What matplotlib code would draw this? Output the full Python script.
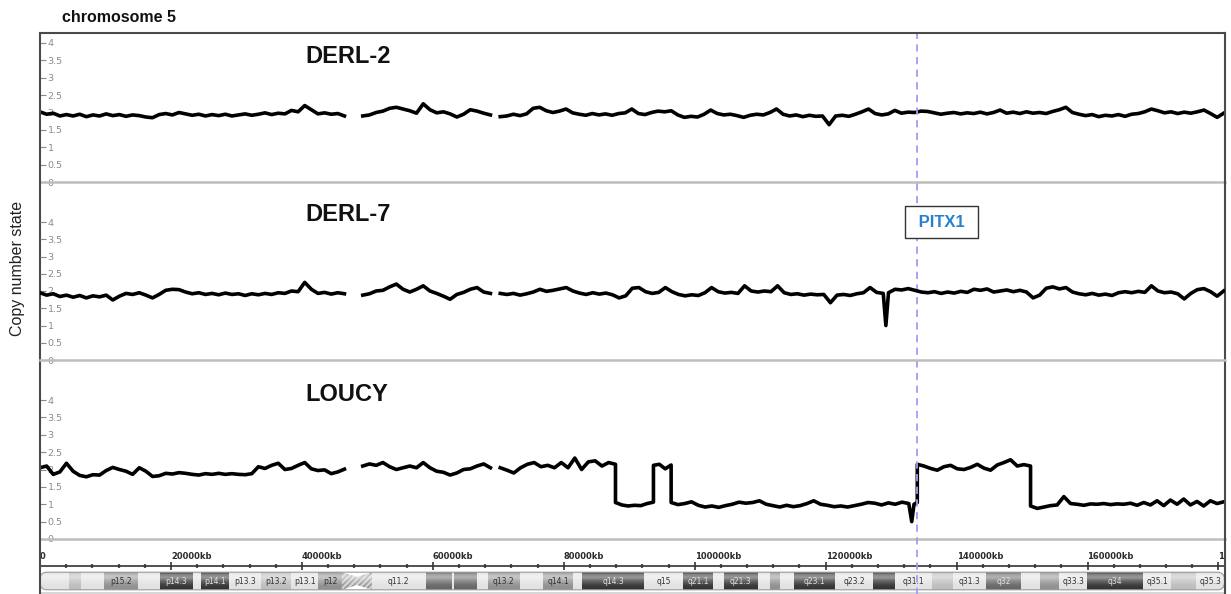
import numpy as np
import matplotlib.pyplot as plt
from matplotlib.patches import FancyBboxPatch, Polygon, Rectangle

W, H = 1231, 594
CHROM_END = 181000
PITX1_POS = 134000

# copy number traces, ~1 Mb bins; pieces are (start_kb, end_kb, values), None = gap
derl2_a = [2.02, 1.95, 1.98, 1.9, 1.94, 1.9, 1.95, 1.88, 1.93, 1.9, 1.96, 1.91, 1.94, 1.89, 1.93, 1.91,
           1.87, 1.85, 1.94, 1.97, 1.93, 2.0, 1.96, 1.92, 1.95, 1.9, 1.94, 1.91, 1.95, 1.9, 1.93, 1.96,
           1.92, 1.95, 1.99, 1.94, 1.98, 1.96, 2.06, 2.02, 2.2, 2.08, 1.96, 1.99, 1.95, 1.97, 1.9]
derl2_b = [1.9, 1.93, 2.0, 2.04, 2.12, 2.15, 2.1, 2.05, 1.98, 2.25, 2.08, 1.99, 2.02, 1.96, 1.87, 1.95,
           2.08, 2.04, 1.98, 1.93]
derl2_c = [1.88, 1.9, 1.95, 1.91, 1.96, 2.12, 2.15, 2.05, 2.0, 2.04, 2.1, 1.99, 1.95, 1.92, 1.97, 1.93,
           1.96, 1.92, 1.97, 1.99, 2.1, 1.97, 1.94, 2.0, 2.04, 2.02, 2.05, 1.93, 1.86, 1.89, 1.87, 1.95,
           2.07, 1.97, 1.93, 1.95, 1.91, 1.86, 1.92, 1.95, 1.93, 2.0, 2.1, 1.95, 1.9, 1.93, 1.88, 1.92,
           1.89, 1.9, 1.65, 1.9, 1.92, 1.89, 1.95, 2.02, 2.1, 1.97, 1.93, 1.96, 2.06, 1.98, 2.01, 2.0,
           2.04, 2.03, 1.99, 1.95, 1.98, 2.0, 1.96, 1.99, 1.97, 2.01, 1.96, 2.0, 2.07, 1.98, 2.01, 1.97,
           2.02, 1.98, 2.0, 1.97, 2.03, 2.08, 2.15, 2.0, 1.95, 1.91, 1.94, 1.88, 1.92, 1.9, 1.94, 1.89,
           1.95, 1.97, 2.02, 2.1, 2.05, 1.99, 2.02, 1.97, 2.01, 1.98, 2.02, 2.07, 1.97, 1.86, 1.98]

derl7_a = [1.95, 1.88, 1.92, 1.84, 1.88, 1.82, 1.87, 1.8, 1.86, 1.83, 1.88, 1.74, 1.85, 1.93, 1.9, 1.95,
           1.88, 1.8, 1.9, 2.02, 2.05, 2.04, 1.97, 1.92, 1.95, 1.9, 1.93, 1.89, 1.94, 1.9, 1.92, 1.87,
           1.92, 1.89, 1.93, 1.9, 1.95, 1.93, 2.0, 1.98, 2.25, 2.05, 1.93, 1.96, 1.91, 1.95, 1.92]
derl7_b = [1.88, 1.92, 2.0, 2.02, 2.12, 2.2, 2.05, 1.97, 2.05, 2.15, 2.0, 1.93, 1.85, 1.76, 1.9, 1.96,
           2.05, 2.1, 1.97, 1.93]
derl7_c1 = [1.93, 1.9, 1.93, 1.88, 1.92, 1.97, 2.05, 1.99, 2.02, 2.06, 2.1, 2.0, 1.94, 1.9, 1.95, 1.91,
            1.94, 1.89, 1.8, 1.86, 2.08, 2.1, 1.98, 1.93, 1.96, 2.1, 1.98, 1.9, 1.86, 1.89, 1.87, 1.95,
            2.1, 1.98, 1.94, 1.96, 1.93, 2.15, 2.0, 1.97, 2.0, 1.98, 2.15, 1.95, 1.9, 1.92, 1.88, 1.91,
            1.89, 1.9, 1.66, 1.88, 1.9, 1.87, 1.92, 1.95, 2.1, 1.96, 1.93]
derl7_dip = [1.0]
derl7_c2 = [1.95, 2.05, 2.03, 2.07, 2.02, 1.97, 1.95, 1.98, 1.93, 1.97, 1.94, 1.99, 1.96, 2.05, 2.02, 2.06,
            1.97, 2.0, 2.03, 1.98, 2.02, 1.97, 1.8, 1.88, 2.08, 2.12, 2.06, 2.1, 1.97, 1.92, 1.89, 1.93,
            1.88, 1.91, 1.87, 1.95, 1.98, 1.95, 1.99, 1.96, 2.15, 2.0, 1.95, 1.97, 1.92, 1.77, 1.93, 2.04,
            2.07, 1.98, 1.85, 2.0]

loucy_a = [2.05, 2.1, 1.86, 1.93, 2.18, 1.95, 1.83, 1.79, 1.85, 1.84, 1.97, 2.06, 2.0, 1.95, 1.86, 2.05,
           1.95, 1.8, 1.82, 1.89, 1.87, 1.91, 1.89, 1.86, 1.84, 1.88, 1.86, 1.89, 1.86, 1.88, 1.86, 1.85,
           1.88, 2.08, 2.03, 2.12, 2.18, 2.0, 2.03, 2.12, 2.2, 2.02, 1.97, 1.99, 1.88, 1.93, 2.01]
loucy_b = [2.1, 2.16, 2.12, 2.2, 2.08, 2.0, 2.05, 2.1, 2.05, 2.2, 2.05, 1.95, 1.92, 1.84, 1.9, 2.0,
           2.02, 2.1, 2.16, 2.05]
loucy_c1 = [2.05, 1.98, 1.9, 2.05, 2.15, 2.2, 2.08, 2.12, 2.05, 2.2, 2.05, 2.33, 2.0, 2.22, 2.25, 2.1,
            2.2, 2.15]
loucy_c2 = [1.05, 0.98, 0.95, 0.97, 0.96, 1.02, 1.06]
loucy_c3 = [2.12, 2.15, 2.02, 2.13]
loucy_c4 = [1.05, 0.99, 1.02, 1.07, 0.97, 0.92, 0.95, 0.91, 0.96, 1.0, 1.06, 1.03, 1.05, 1.1, 1.0, 0.96,
            0.92, 0.97, 0.93, 0.96, 1.02, 1.1, 1.0, 0.97, 0.93, 0.95, 0.92, 0.96, 1.0, 1.05, 1.03, 0.98,
            1.04, 1.0, 1.06, 1.02]
loucy_dip = [0.5]
loucy_c5 = [1.0, 1.05]
loucy_c6 = [2.15, 2.1, 2.03, 1.98, 2.08, 2.12, 2.02, 2.0, 2.06, 2.15, 2.04, 1.98, 2.13, 2.2, 2.28, 2.1,
            2.14, 2.1]
loucy_c7 = [0.95, 0.88, 0.92, 0.96, 0.98, 1.22, 1.02, 1.0, 0.97, 1.01, 1.0, 1.02, 0.99, 1.01, 1.0, 1.03,
            0.97, 1.05, 0.98, 1.1, 0.96, 1.12, 1.0, 1.15, 0.98, 1.08, 0.95, 1.1, 1.02, 1.07]

samples = ["DERL-2", "DERL-7", "LOUCY"]
pieces = {
    "DERL-2": [(0, 46500, derl2_a), None, (49300, 68800, derl2_b), None, (70300, 180800, derl2_c)],
    "DERL-7": [(0, 46500, derl7_a), None, (49300, 68800, derl7_b), None,
               (70300, 128800, derl7_c1), (129200, 129200, derl7_dip), (129600, 180800, derl7_c2)],
    "LOUCY": [(0, 46500, loucy_a), None, (49300, 68800, loucy_b), None,
              (70300, 87900, loucy_c1), (87900, 93700, loucy_c2), (93700, 96400, loucy_c3),
              (96400, 132700, loucy_c4), (133150, 133150, loucy_dip), (133500, 134000, loucy_c5),
              (134000, 151300, loucy_c6), (151300, 180800, loucy_c7)],
}

# hg19 chr5 cytobands (kb)
band_names = ["p15.33", "p15.32", "p15.31", "p15.2", "p15.1", "p14.3", "p14.2", "p14.1", "p13.3",
              "p13.2", "p13.1", "p12", "p11", "q11.1", "q11.2", "q12.1", "q12.2", "q12.3", "q13.1",
              "q13.2", "q13.3", "q14.1", "q14.2", "q14.3", "q15", "q21.1", "q21.2", "q21.3", "q22.1",
              "q22.2", "q22.3", "q23.1", "q23.2", "q23.3", "q31.1", "q31.2", "q31.3", "q32", "q33.1",
              "q33.2", "q33.3", "q34", "q35.1", "q35.2", "q35.3"]
band_starts = [0, 4500, 6300, 9800, 15000, 18400, 23300, 24600, 28900, 33800, 38400, 42500, 46100,
               48400, 50700, 58900, 62900, 63200, 66700, 68400, 73300, 76900, 81400, 82800, 92300,
               98200, 102800, 104500, 109600, 111500, 113100, 115200, 121400, 127300, 130600, 136200,
               139500, 144500, 149800, 152700, 155700, 159900, 168500, 172800, 176600]
band_ends = band_starts[1:] + [180915]
band_stains = ["gneg", "gpos25", "gneg", "gpos50", "gneg", "gpos100", "gneg", "gpos100", "gneg",
               "gpos25", "gneg", "gpos50", "acen", "acen", "gneg", "gpos75", "gneg", "gpos75", "gneg",
               "gpos50", "gneg", "gpos50", "gneg", "gpos100", "gneg", "gpos100", "gneg", "gpos100",
               "gneg", "gpos50", "gneg", "gpos100", "gneg", "gpos100", "gneg", "gpos25", "gneg",
               "gpos75", "gneg", "gpos50", "gneg", "gpos100", "gneg", "gpos25", "gneg"]
labeled_bands = {"p15.2", "p14.3", "p14.1", "p13.3", "p13.2", "p13.1", "p12", "q11.2", "q13.2",
                 "q14.1", "q14.3", "q15", "q21.1", "q21.3", "q23.1", "q23.2", "q31.1", "q31.3",
                 "q32", "q33.3", "q34", "q35.1", "q35.3"}
stain_colors = {"gneg": "#e2e2e2", "gpos25": "#bdbdbd", "gpos50": "#8f8f8f",
                "gpos75": "#666666", "gpos100": "#333333"}

x_ticks = list(range(0, 180001, 20000))
x_ticklabels = ["0"] + [f"{t}kb" for t in x_ticks[1:]]
y_ticks = [0, 0.5, 1, 1.5, 2, 2.5, 3, 3.5, 4]
y_ticklabels = ["0", "0.5", "1", "1.5", "2", "2.5", "3", "3.5", "4"]


def trace(parts):
    xs, ys = [], []
    for part in parts:
        if part is None:
            xs.append(np.nan)
            ys.append(np.nan)
            continue
        start, end, vals = part
        xs.extend(np.linspace(start, end, len(vals)))
        ys.extend(vals)
    return np.array(xs), np.array(ys)


fig = plt.figure(figsize=(W / 100, H / 100), dpi=100)


def px_axes(x0, y0, x1, y1, **kw):
    return fig.add_axes([x0 / W, 1 - y1 / H, (x1 - x0) / W, (y1 - y0) / H], **kw)


# outer frame, also carries the PITX1 marker line
frame = px_axes(40, 33, 1225, 610, zorder=5)
frame.set_facecolor("none")
frame.set_xlim(0, CHROM_END)
frame.set_ylim(0, 1)
frame.set_xticks([])
frame.set_yticks([])
for side in ["left", "top", "right"]:
    frame.spines[side].set_color("#4a4a4a")
    frame.spines[side].set_linewidth(1.5)
frame.spines["bottom"].set_visible(False)
frame.axvline(PITX1_POS, color="#9e9ef2", lw=1.3, ls=(0, (4, 3)))

# panel extents in pixels: (top, zero line, px per copy)
panel_px = [(33, 182, 34.75), (182, 360, 34.5), (360, 539, 34.75)]
label_y = [3.6, 4.23, 4.17]

for i, name in enumerate(samples):
    top, zero, scale = panel_px[i]
    ax = px_axes(40, top, 1225, zero, zorder=6 if i == 1 else 1)
    ax.set_facecolor("none")
    ax.set_xlim(0, CHROM_END)
    ax.set_ylim(0, (zero - top) / scale)
    xs, ys = trace(pieces[name])
    ax.plot(xs, ys, color="black", lw=2.6, solid_joinstyle="round")
    for side in ["left", "top", "right"]:
        ax.spines[side].set_visible(False)
    ax.spines["bottom"].set_color("#bdbdbd")
    ax.spines["bottom"].set_linewidth(1.8)
    ax.set_xticks([])
    ax.set_yticks(y_ticks)
    ax.set_yticklabels(y_ticklabels)
    ax.tick_params(axis="y", direction="in", length=4.5, width=0.8, color="#8a8a8a",
                   labelcolor="#8a8a8a", labelsize=6.8, pad=-5.5)
    for lab in ax.get_yticklabels():
        lab.set_horizontalalignment("left")
    ax.text(40600, label_y[i], name, fontsize=17, fontweight="bold", family="Liberation Sans",
            ha="left", va="center", color="#111111")
    if name == "DERL-7":
        ax.text(137700, 4.0, " PITX1 ", fontsize=12, fontweight="bold", family="Liberation Sans",
                color="#2680d0", ha="center", va="center", zorder=8,
                bbox=dict(boxstyle="square,pad=0.5", fc="white", ec="#333333", lw=1.0))

# genomic scale
scale_ax = px_axes(40, 566, 1225, 580)
scale_ax.set_facecolor("none")
scale_ax.set_xlim(0, CHROM_END)
scale_ax.set_yticks([])
for side in ["left", "bottom", "right"]:
    scale_ax.spines[side].set_visible(False)
scale_ax.spines["top"].set_color("#333333")
scale_ax.spines["top"].set_linewidth(1.2)
scale_ax.xaxis.tick_top()
scale_ax.set_xticks(x_ticks)
scale_ax.set_xticklabels(x_ticklabels)
scale_ax.set_xticks(range(0, CHROM_END, 4000), minor=True)
scale_ax.tick_params(axis="x", which="major", direction="inout", length=6, width=1.2,
                     color="#333333", pad=0.5, labelsize=6, labelcolor="#2a2a2a")
scale_ax.tick_params(axis="x", which="minor", direction="inout", length=2.5, width=1.6,
                     color="#555555")
for lab in scale_ax.get_xticklabels():
    lab.set_horizontalalignment("left")
    lab.set_fontweight("bold")
    lab.set_clip_on(True)
    lab.set_clip_box(frame.bbox)

# chromosome ideogram
ideo = px_axes(40, 571, 1225, 591)
ideo.set_xlim(0, CHROM_END)
ideo.set_ylim(0, 1)
ideo.axis("off")
outline = FancyBboxPatch((0, 0.06), band_ends[-1], 0.88,
                         boxstyle="round,pad=0,rounding_size=1100", mutation_aspect=3.2e-4,
                         fc="none", ec="#9a9a9a", lw=0.8, zorder=5)
ideo.add_patch(outline)
for name, start, end, stain in zip(band_names, band_starts, band_ends, band_stains):
    if stain == "acen":
        if name.startswith("p"):
            pts = [(start, 0.06), (end, 0.3), (end, 0.7), (start, 0.94)]
        else:
            pts = [(start, 0.3), (end, 0.06), (end, 0.94), (start, 0.7)]
        patch = Polygon(pts, closed=True, fc="#cdcdcd", ec="#8c8c8c", hatch="//////", lw=0, zorder=1)
    else:
        patch = Rectangle((start, 0.06), end - start, 0.88, fc=stain_colors[stain], lw=0, zorder=1)
    ideo.add_patch(patch)
    patch.set_clip_path(outline)
    if name in labeled_bands:
        dark = stain in ("gpos75", "gpos100")
        ideo.text((start + end) / 2, 0.5, name, fontsize=5.5, ha="center", va="center",
                  color="#e0e0e0" if dark else "#333333", zorder=4)

gloss = np.ones((40, 1, 4))
gloss[:, 0, 3] = np.interp(np.linspace(0, 1, 40), [0, 0.12, 0.3, 0.5, 0.75, 1],
                           [0.0, 0.4, 0.5, 0.25, 0.05, 0.0])
im = ideo.imshow(gloss, extent=(0, band_ends[-1], 0.06, 0.94), aspect="auto",
                 interpolation="bilinear", zorder=2)
im.set_clip_path(outline)
ideo.set_xlim(0, CHROM_END)
ideo.set_ylim(0, 1)
ideo.plot([0, band_ends[-1]], [-0.08, -0.08], color="#cfcfcf", lw=1.2, clip_on=False)

fig.text(18 / W, 1 - 268 / H, "Copy number state", rotation=90, fontsize=11.5,
         family="Liberation Sans", color="#222222", ha="center", va="center")
fig.text(62 / W, 1 - 17 / H, "chromosome 5", fontsize=11.5, fontweight="bold",
         family="Liberation Sans", color="#111111", ha="left", va="center")

fig.savefig("out.png", dpi=100)
